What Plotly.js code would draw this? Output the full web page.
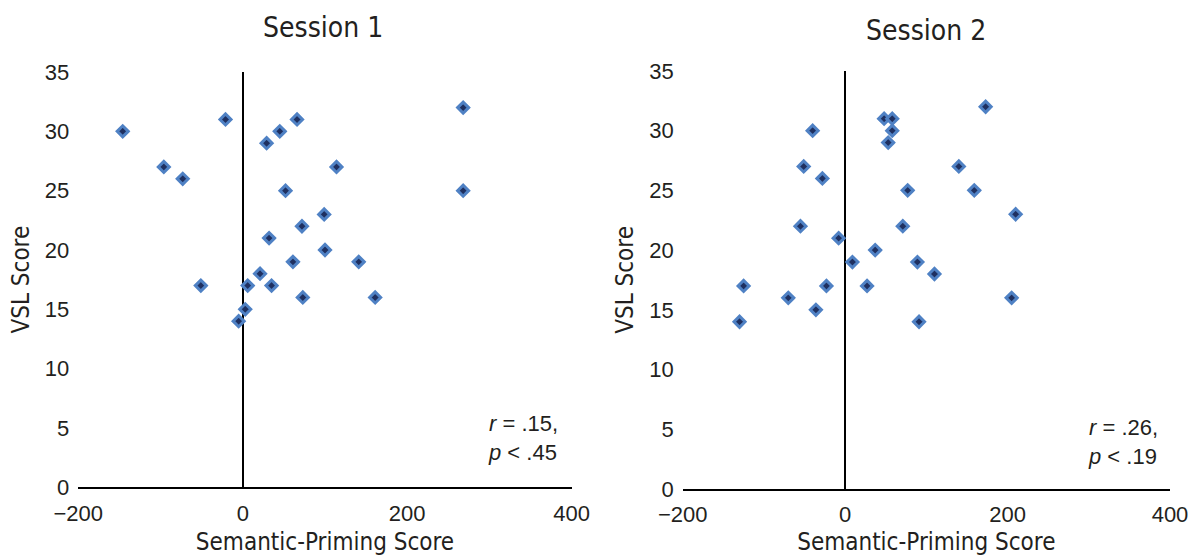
<!DOCTYPE html>
<html>
<head>
<meta charset="utf-8">
<script src="https://cdn.plot.ly/plotly-3.0.1.min.js"></script>
<style>html,body{margin:0;padding:0;background:#fff;}#chart{width:1193px;height:556px;}</style>
</head>
<body>
<div id="chart"></div>
<script>
// Session 1: semantic-priming score (x) vs VSL score (y)
const session1Priming = [-146, -21, -96, -73, 29, 45, 66, 114, 52, 99, 72, 32, 100, 61, 21, -51, 6, 35, 73, 3, -5, 141, 161, 268, 268];
const session1VSL     = [30, 31, 27, 26, 29, 30, 31, 27, 25, 23, 22, 21, 20, 19, 18, 17, 17, 17, 16, 15, 14, 19, 16, 32, 25];

// Session 2
const session2Priming = [173, 48, 58, 58, 53, -40, -51, -28, 140, 77, 159, -55, 71, -8, 37, 9, 89, 110, -125, -23, 27, -70, -36, -130, 91, 210, 205];
const session2VSL     = [32, 31, 31, 30, 29, 30, 27, 26, 27, 25, 25, 22, 22, 21, 20, 19, 19, 18, 17, 17, 17, 16, 15, 14, 14, 23, 16];

const xTickVals = [-200, 0, 200, 400];
const yTickVals = [0, 5, 10, 15, 20, 25, 30, 35];
const panelTitles = ["Session 1", "Session 2"];
const statsText = ["<i>r</i> = .15,<br><i>p</i> < .45", "<i>r</i> = .26,<br><i>p</i> < .19"];
const xTitle = "Semantic-Priming Score";
const yTitle = "VSL Score";

const W = 1193, H = 556;
const textColor = "#231f20";
const tickFont = {family: "Liberation Sans, Arial, sans-serif", size: 22, color: textColor};
const titleFontFamily = "'Liberation Sans Narrow', 'Arial Narrow', 'DejaVu Sans Condensed', sans-serif";

const marker = {symbol: "diamond", size: 8.5, color: "#1f3060", line: {color: "#4f81c4", width: 3}};

const traces = [
  {x: session1Priming, y: session1VSL, type: "scatter", mode: "markers", marker: marker, xaxis: "x", yaxis: "y", hoverinfo: "x+y"},
  {x: session2Priming, y: session2VSL, type: "scatter", mode: "markers", marker: marker, xaxis: "x2", yaxis: "y2", hoverinfo: "x+y"}
];

function xAxis(domain) {
  return {
    domain: domain, range: [-200, 400], tickvals: xTickVals, ticks: "", showgrid: false,
    showline: true, linecolor: "#000", linewidth: 2,
    zeroline: true, zerolinecolor: "#000", zerolinewidth: 2,
    tickfont: tickFont, ticklabelstandoff: 5, fixedrange: true,
    title: {text: xTitle, font: {family: titleFontFamily, size: 24, color: textColor}, standoff: 14}
  };
}
function yAxis(domain, anchor) {
  return {
    domain: domain, range: [0, 35], tickvals: yTickVals, ticks: "", showgrid: false,
    showline: false, zeroline: false, anchor: anchor,
    tickfont: tickFont, ticklabelstandoff: 8, fixedrange: true,
    title: {text: yTitle, font: {family: titleFontFamily, size: 24, color: textColor}, standoff: 8}
  };
}

const layout = {
  width: W, height: H,
  margin: {l: 0, r: 0, t: 0, b: 0},
  paper_bgcolor: "#fff", plot_bgcolor: "#fff",
  showlegend: false,
  font: {family: "Liberation Sans, Arial, sans-serif", color: textColor},
  xaxis: Object.assign(xAxis([78.3 / W, 571.7 / W]), {anchor: "y"}),
  yaxis: yAxis([(H - 487.3) / H, (H - 72) / H], "x"),
  xaxis2: Object.assign(xAxis([682.7 / W, 1170 / W]), {anchor: "y2"}),
  yaxis2: yAxis([(H - 489) / H, (H - 70.9) / H], "x2"),
  annotations: [
    {text: panelTitles[0], xref: "paper", yref: "paper", x: 323 / W, y: 1 - 27 / H, xanchor: "center", yanchor: "middle", showarrow: false,
     font: {family: titleFontFamily, size: 28, color: textColor}},
    {text: panelTitles[1], xref: "paper", yref: "paper", x: 926 / W, y: 1 - 30 / H, xanchor: "center", yanchor: "middle", showarrow: false,
     font: {family: titleFontFamily, size: 28, color: textColor}},
    {text: statsText[0], xref: "x", yref: "y", x: 296, y: 6.6, xanchor: "left", yanchor: "top", align: "left", showarrow: false,
     font: {family: "Liberation Sans, Arial, sans-serif", size: 22, color: textColor}},
    {text: statsText[1], xref: "x2", yref: "y2", x: 296, y: 6.4, xanchor: "left", yanchor: "top", align: "left", showarrow: false,
     font: {family: "Liberation Sans, Arial, sans-serif", size: 22, color: textColor}}
  ]
};

Plotly.newPlot("chart", traces, layout, {displayModeBar: false, staticPlot: true});
</script>
</body>
</html>
